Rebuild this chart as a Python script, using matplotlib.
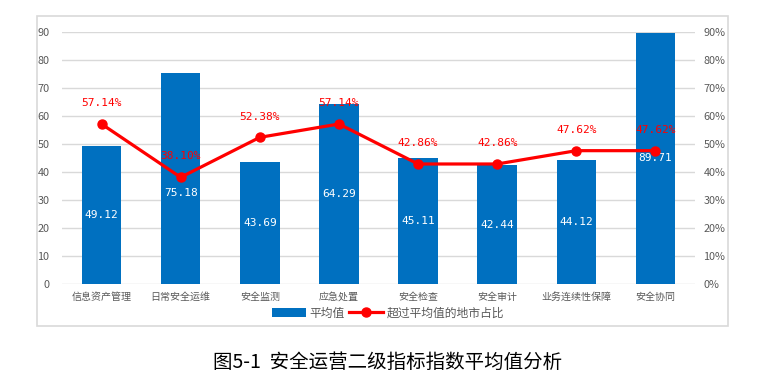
import matplotlib
matplotlib.use("Agg")
import matplotlib.pyplot as plt
from matplotlib.patches import Rectangle
import numpy as np

plt.rcParams['font.family'] = ['Noto Sans CJK SC', 'DejaVu Sans']

categories = ['信息资产管理', '日常安全运维', '安全监测', '应急处置', '安全检查', '安全审计', '业务连续性保障', '安全协同']
avg_values = [49.12, 75.18, 43.69, 64.29, 45.11, 42.44, 44.12, 89.71]
above_pct = [57.14, 38.10, 52.38, 57.14, 42.86, 42.86, 47.62, 47.62]
left_ticks = [0, 10, 20, 30, 40, 50, 60, 70, 80, 90]
right_ticks = [0, 10, 20, 30, 40, 50, 60, 70, 80, 90]
bar_label_nudge = [0, -10, 0, 0, 0, 0, 0, 0]  # points

fig = plt.figure(figsize=(7.70, 3.89), dpi=100)
fig.patch.set_facecolor('white')

ax = fig.add_axes([62/770, 1-284/389, (695-62)/770, (284-32)/389])
x = np.arange(len(categories))

grid_c = '#D9D9D9'
tick_c = '#595959'
bar_c = '#0070C0'
red = '#FF0000'

bars = ax.bar(x, avg_values, width=0.5, color=bar_c, zorder=2, label='平均值')
ax.set_ylim(0, 90)
ax.set_xlim(-0.5, len(categories)-0.5)
ax.set_yticks(left_ticks)
ax.set_yticklabels([str(t) for t in left_ticks])
ax.set_xticks(x)
ax.set_xticklabels(categories)
ax.grid(axis='y', color=grid_c, lw=1.0, zorder=0)
ax.set_axisbelow(True)
for s in ax.spines.values():
    s.set_visible(False)
ax.tick_params(axis='both', length=0, colors=tick_c)
ax.tick_params(axis='y', pad=9, labelsize=7.8)
ax.tick_params(axis='x', pad=8.5, labelsize=7.2)
for lbl in ax.get_xticklabels():
    lbl.set_verticalalignment('center_baseline')

for i, v in enumerate(avg_values):
    ax.annotate(f'{v:.2f}', (x[i], v/2), xytext=(0, bar_label_nudge[i]),
                textcoords='offset points', ha='center', va='center',
                color='white', fontsize=8, family=['DejaVu Sans Mono'], zorder=5)

ax2 = ax.twinx()
ax2.set_ylim(0, 90)
ax2.plot(x, above_pct, color=red, lw=2.3, marker='o', markersize=6.5, zorder=4,
         label='超过平均值的地市占比')
ax2.set_yticks(right_ticks)
ax2.set_yticklabels([f'{t}%' for t in right_ticks])
for s in ax2.spines.values():
    s.set_visible(False)
ax2.tick_params(axis='y', length=0, colors=tick_c, labelsize=7.8, pad=6)
for i, v in enumerate(above_pct):
    ax2.annotate(f'{v:.2f}%', (x[i], v), xytext=(0, 15), textcoords='offset points',
                 ha='center', va='center', color=red, fontsize=8,
                 family=['DejaVu Sans Mono'], zorder=6)

h1, l1 = ax.get_legend_handles_labels()
h2, l2 = ax2.get_legend_handles_labels()
leg = fig.legend(h1 + h2, l1 + l2, loc='center', bbox_to_anchor=(388/770, 1-313/389),
                 ncol=2, frameon=False, fontsize=8.5, handlelength=2.9,
                 handletextpad=0.3, columnspacing=0.3, labelcolor=tick_c)

fig.patches.append(Rectangle((37/770, 1-326/389), (728-37)/770, (326-16)/389,
                             transform=fig.transFigure, fill=False,
                             edgecolor=grid_c, lw=1.2))

fig.text(388/770, 1-362/389, '图5-1  安全运营二级指标指数平均值分析', ha='center', va='center',
         fontsize=14, color='black')

fig.savefig('out.png', dpi=100)
